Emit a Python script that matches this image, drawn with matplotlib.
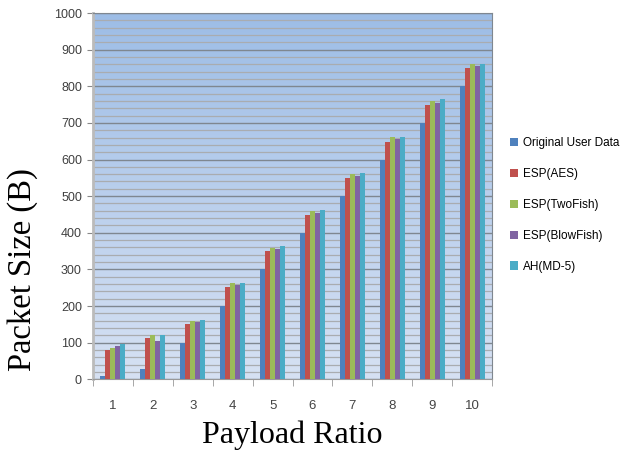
import numpy as np
import matplotlib.pyplot as plt
from matplotlib.colors import LinearSegmentedColormap

ratios = [1, 2, 3, 4, 5, 6, 7, 8, 9, 10]
original = [9, 28, 100, 200, 300, 400, 500, 600, 700, 800]
esp_aes = [81, 112, 150, 251, 351, 449, 550, 649, 748, 851]
esp_twofish = [85, 120, 160, 262, 359, 459, 560, 661, 760, 860]
esp_blowfish = [90, 105, 156, 257, 355, 455, 556, 655, 755, 855]
ah_md5 = [96, 120, 163, 264, 364, 461, 562, 662, 764, 862]

series = [
    ('Original User Data', original, '#4F81BD'),
    ('ESP(AES)', esp_aes, '#C0504D'),
    ('ESP(TwoFish)', esp_twofish, '#9BBB59'),
    ('ESP(BlowFish)', esp_blowfish, '#8064A2'),
    ('AH(MD-5)', ah_md5, '#4BACC6'),
]

sans = 'Liberation Sans'

fig = plt.figure(figsize=(6.34, 4.55), dpi=100)
ax = fig.add_axes([0.1467, 0.1664, 0.6295, 0.805])

# gradient plot background
grad = np.linspace(0, 1, 256).reshape(-1, 1)
cmap = LinearSegmentedColormap.from_list('bg', ['#9dbde6', '#d6e1f3'])
ax.imshow(grad, extent=[0, 1, 0, 1], transform=ax.transAxes, cmap=cmap,
          aspect='auto', zorder=0)

x = np.arange(len(ratios))
w = 0.125
for i, (name, vals, col) in enumerate(series):
    ax.bar(x + (i - 2) * w, vals, w, color=col, label=name, zorder=3)

ax.set_xlim(-0.5, len(ratios) - 0.5)
ax.set_ylim(0, 1000)
ax.set_yticks(range(0, 1001, 100))
ax.set_yticks(range(0, 1001, 20), minor=True)
ax.grid(axis='y', which='minor', color='#a9acb0', lw=0.9, zorder=1)
ax.grid(axis='y', which='major', color='#7f8790', lw=1.0, zorder=1)

ax.set_xticks(x)
ax.set_xticklabels([str(r) for r in ratios])
ax.set_xticks(np.arange(-0.5, len(ratios)), minor=True)
ax.tick_params(axis='x', which='major', length=0, pad=15, labelsize=9.5,
               labelcolor='#444444')
ax.tick_params(axis='x', which='minor', length=5, color='#999999', direction='out')
ax.tick_params(axis='y', which='major', length=4, color='#888888', labelsize=9,
               labelcolor='#404040', pad=4)
ax.tick_params(axis='y', which='minor', length=0)
for lab in ax.get_yticklabels() + ax.get_xticklabels():
    lab.set_family(sans)

for side in ['top', 'right']:
    ax.spines[side].set_color('#7f8790')
ax.spines['left'].set_color('#bbbbbb')
ax.spines['left'].set_linewidth(2)
ax.spines['bottom'].set_color('#999999')

ax.set_xlabel('Payload Ratio', family='Liberation Serif', fontsize=23, labelpad=6)
ax.set_ylabel('Packet Size (B)', family='Liberation Serif', fontsize=23.5)
ax.yaxis.set_label_coords(-0.138, 0.30)

fig.legend(loc='upper left', bbox_to_anchor=(0.787, 0.722), frameon=False,
           prop={'family': sans, 'size': 8.5}, handlelength=0.7,
           handleheight=0.7, handletextpad=0.4, labelspacing=1.6)

fig.savefig('out.png', dpi=100)
